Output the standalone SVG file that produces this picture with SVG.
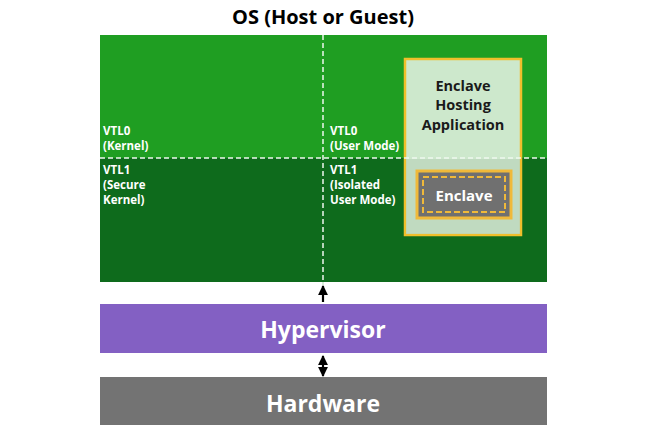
<svg xmlns="http://www.w3.org/2000/svg" width="650" height="433" viewBox="0 0 650 433">
<defs>
<style>
.t{font-family:"Open Sans","Noto Sans","Liberation Sans",sans-serif;font-weight:bold;}
.lbl{fill:#fff;font-size:11.5px;}
.dash{stroke:#eef8ee;stroke-width:1.5;stroke-dasharray:5,3;fill:none;}
</style>
<marker id="ah" viewBox="0 0 10 10" refX="9" refY="5" markerWidth="4.5" markerHeight="4.5" orient="auto-start-reverse"><path d="M0,0 L10,5 L0,10 z" fill="#000"/></marker>
</defs>
<rect width="650" height="433" fill="#fff"/>
<text class="t" x="323" y="24" font-size="20" text-anchor="middle" fill="#000">OS (Host or Guest)</text>
<g id="os">
<rect x="100" y="35" width="447" height="123" fill="#1f9e22"/>
<rect x="100" y="158" width="447" height="124" fill="#0e6b1c"/>
</g>
<g id="vtl0-kernel"><text class="t lbl" x="103" y="135">VTL0</text><text class="t lbl" x="103" y="150">(Kernel)</text></g>
<g id="vtl1-kernel"><text class="t lbl" x="103" y="174">VTL1</text><text class="t lbl" x="103" y="189">(Secure</text><text class="t lbl" x="103" y="204">Kernel)</text></g>
<g id="vtl0-user"><text class="t lbl" x="330" y="135">VTL0</text><text class="t lbl" x="330" y="150">(User Mode)</text></g>
<g id="vtl1-user"><text class="t lbl" x="330" y="174">VTL1</text><text class="t lbl" x="330" y="189">(Isolated</text><text class="t lbl" x="330" y="204">User Mode)</text></g>
<g id="enclave-host">
<rect x="405" y="59" width="116" height="176" fill="#cde8cc" stroke="#f0bf2c" stroke-width="2.5"/>
<rect x="406" y="159" width="114" height="75" fill="#b7cdb7" opacity="0.55"/>
<text class="t" x="463" y="91" font-size="14.5" text-anchor="middle" fill="#1a1a1a">Enclave</text>
<text class="t" x="463" y="110" font-size="14.5" text-anchor="middle" fill="#1a1a1a">Hosting</text>
<text class="t" x="463" y="130" font-size="14.5" text-anchor="middle" fill="#1a1a1a">Application</text>
</g>
<g id="connectors">
<line class="dash" x1="100" y1="158" x2="547" y2="158"/>
<line class="dash" x1="323" y1="35" x2="323" y2="282"/>
<line x1="323" y1="302" x2="323" y2="286" stroke="#000" stroke-width="2.2" marker-end="url(#ah)"/>
<line x1="323" y1="356" x2="323" y2="376" stroke="#000" stroke-width="2.2" marker-start="url(#ah)" marker-end="url(#ah)"/>
<line x1="323" y1="282" x2="323" y2="286" stroke="#cde8cc" stroke-width="1.5" stroke-dasharray="3,2"/>
</g>
<g id="enclave">
<rect x="417" y="171" width="94" height="47" fill="#707070" stroke="#f0b93a" stroke-width="3"/>
<rect x="423" y="177" width="82" height="35" fill="none" stroke="#f0b93a" stroke-width="2" stroke-dasharray="6,3"/>
<text class="t" x="464" y="201" font-size="15" text-anchor="middle" fill="#fff">Enclave</text>
</g>
<g id="hypervisor">
<rect x="100" y="304" width="447" height="49" fill="#8360c3"/>
<text class="t" x="323" y="338" font-size="23" text-anchor="middle" fill="#fff">Hypervisor</text>
</g>
<g id="hardware">
<rect x="100" y="377" width="447" height="48" fill="#737373"/>
<text class="t" x="323" y="412" font-size="23" text-anchor="middle" fill="#fff">Hardware</text>
</g>
</svg>
